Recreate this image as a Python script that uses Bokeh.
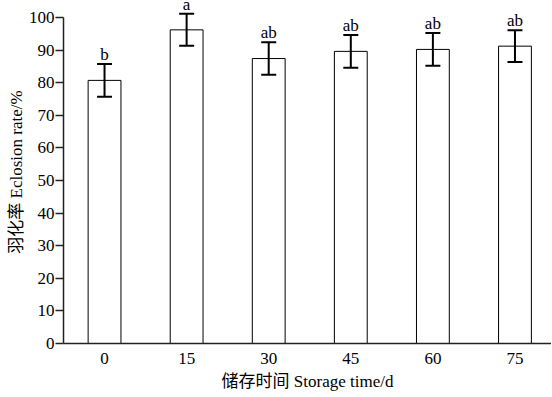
from bokeh.plotting import figure
from bokeh.models import ColumnDataSource, Range1d, FixedTicker, Whisker, TeeHead
from bokeh.core.properties import value
from bokeh.embed import file_html
from bokeh.resources import INLINE

storage_days = ["0", "15", "30", "45", "60", "75"]
eclosion_rate = [80.7, 96.2, 87.4, 89.6, 90.2, 91.2]
std_err = [5.0, 4.9, 5.0, 5.0, 5.0, 4.9]
letters = ["b", "a", "ab", "ab", "ab", "ab"]
y_ticks = [0, 10, 20, 30, 40, 50, 60, 70, 80, 90, 100]

FONT = "'Liberation Serif', 'Times New Roman', 'Noto Sans CJK SC', serif"

idx = list(range(len(storage_days)))
src = ColumnDataSource(dict(
    x=idx,
    top=eclosion_rate,
    upper=[m + s for m, s in zip(eclosion_rate, std_err)],
    lower=[m - s for m, s in zip(eclosion_rate, std_err)],
    letter=letters,
))

p = figure(width=551, height=397, output_backend="svg", toolbar_location=None,
           x_range=Range1d(-0.5, 5.445), y_range=Range1d(0, 105.2),
           min_border_left=63, min_border_bottom=54, min_border_top=0, min_border_right=0)
p.outline_line_color = None
p.xgrid.visible = False
p.ygrid.visible = False

p.vbar(x="x", top="top", bottom=0, width=0.4, source=src,
       fill_color="white", line_color="black", line_width=1)

w = Whisker(base="x", upper="upper", lower="lower", source=src,
            line_width=2, line_color="black",
            upper_head=TeeHead(size=15, line_width=2, line_color="black"),
            lower_head=TeeHead(size=15, line_width=2, line_color="black"))
w.level = "overlay"
p.add_layout(w)

p.text(x="x", y="upper", text="letter", source=src, y_offset=0,
       text_align="center", text_baseline="bottom",
       text_font=value(FONT), text_font_size="17px", text_color="black")

xa = p.xaxis[0]
xa.ticker = FixedTicker(ticks=idx)
xa.major_label_overrides = {i: s for i, s in zip(idx, storage_days)}
xa.major_tick_out = 0
xa.major_tick_in = 0
xa.minor_tick_out = 0
xa.axis_line_width = 1.5
xa.axis_line_color = "#222222"
xa.major_label_text_font = FONT
xa.major_label_text_font_size = "17px"
xa.major_label_text_color = "black"
xa.major_label_standoff = 9
xa.axis_label = "储存时间 Storage time/d"
xa.axis_label_text_font = FONT
xa.axis_label_text_font_size = "17px"
xa.axis_label_text_font_style = "normal"
xa.axis_label_text_color = "black"
xa.axis_label_standoff = 5

ya = p.yaxis[0]
ya.ticker = FixedTicker(ticks=y_ticks)
ya.bounds = (0, 100)
ya.major_tick_out = 8
ya.major_tick_in = 0
ya.minor_tick_out = 0
ya.minor_tick_in = 0
ya.major_tick_line_width = 1.5
ya.major_tick_line_color = "#222222"
ya.axis_line_width = 1.5
ya.axis_line_color = "#222222"
ya.major_label_text_font = FONT
ya.major_label_text_font_size = "17px"
ya.major_label_text_color = "black"
ya.major_label_standoff = 1
ya.axis_label = "羽化率 Eclosion rate/%"
ya.axis_label_text_font = FONT
ya.axis_label_text_font_size = "17px"
ya.axis_label_text_font_style = "normal"
ya.axis_label_text_color = "black"
ya.axis_label_standoff = 0

open("out.html", "w").write(file_html(p, INLINE))
